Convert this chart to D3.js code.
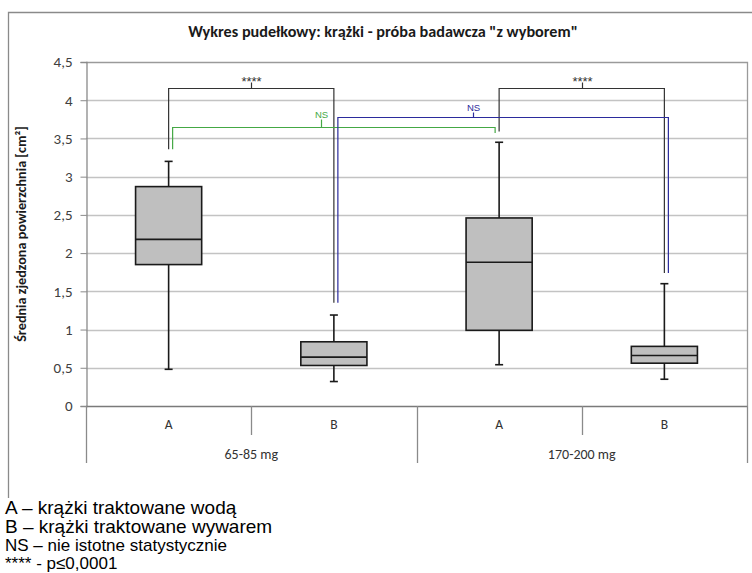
<!DOCTYPE html>
<html>
<head>
<meta charset="utf-8">
<script src="https://cdn.jsdelivr.net/npm/d3@7"></script>
<style>
  body { margin: 0; background: #fff; }
  svg { display: block; }
</style>
</head>
<body>
<div id="chart"></div>
<script>
// Box plot data, order: A/65-85, B/65-85, A/170-200, B/170-200
const groups = ["65-85 mg", "170-200 mg"]
const treatments = ["A", "B"]
const whiskerLow = [0.48, 0.32, 0.54, 0.35]
const q1 = [1.85, 0.53, 0.99, 0.56]
const median = [2.18, 0.64, 1.88, 0.66]
const q3 = [2.87, 0.84, 2.46, 0.78]
const whiskerHigh = [3.20, 1.19, 3.45, 1.60]
const yTicks = [0, 0.5, 1, 1.5, 2, 2.5, 3, 3.5, 4, 4.5]

// Significance brackets
const bracketFrom = [0, 2, 0, 1]
const bracketTo = [1, 3, 2, 3]
const bracketTop = [4.16, 4.16, 3.65, 3.78]
const bracketLeftEnd = [3.36, 3.59, 3.36, 1.35]
const bracketRightEnd = [1.35, 1.74, 3.57, 1.74]
const bracketMark = [0.5, 2.5, 0.92, 1.84]
const bracketLabels = ["****", "****", "NS", "NS"]

const legendLines = [
  "A – krążki traktowane wodą",
  "B – krążki traktowane wywarem",
  "NS – nie istotne statystycznie",
  "**** - p≤0,0001"
]

const width = 752
const height = 573
const plot = { left: 86, right: 747, top: 62, bottom: 406 }
const calibri = "Carlito, Lato, 'Open Sans', sans-serif"
const arial = "'Liberation Sans', Arial, sans-serif"

const bracketStyle = [
  { color: "#333333", dxL: 0, dxR: 0, mark: 6, labelSize: 13, labelGap: -3 },
  { color: "#333333", dxL: 0, dxR: 0, mark: 6, labelSize: 13, labelGap: -3 },
  { color: "#44a844", dxL: 4, dxR: -4, mark: 8, labelSize: 9.5, labelGap: 2 },
  { color: "#2b2b9c", dxL: 4, dxR: 4, mark: 5, labelSize: 9.5, labelGap: 2 }
]

const svg = d3.select("#chart")
  .append("svg")
  .attr("width", width)
  .attr("height", height)

// Outer chart frame
svg.append("path")
  .attr("d", `M8.5,502 V12.5 H${width}`)
  .attr("fill", "none")
  .attr("stroke", "#8a8a8a")
  .attr("stroke-width", 1.3)

// Title
svg.append("text")
  .attr("x", 383)
  .attr("y", 37)
  .attr("text-anchor", "middle")
  .attr("font-family", calibri)
  .attr("font-weight", "bold")
  .attr("font-size", "16.2px")
  .attr("fill", "#1a1a1a")
  .text('Wykres pudełkowy: krążki - próba badawcza "z wyborem"')

// Scales
const categories = d3.range(whiskerLow.length)
const x = d3.scaleBand()
  .domain(categories)
  .range([plot.left, plot.right])
  .paddingInner(0)
  .paddingOuter(0)

const xPos = d3.scaleLinear()
  .domain([-0.5, categories.length - 0.5])
  .range([plot.left, plot.right])

const y = d3.scaleLinear()
  .domain([0, 4.5])
  .range([plot.bottom, plot.top])

const center = i => x(i) + x.bandwidth() / 2

// Gridlines
svg.append("g")
  .selectAll("line")
  .data(yTicks.filter(t => t > 0 && t < 4.5))
  .join("line")
  .attr("x1", plot.left)
  .attr("x2", plot.right)
  .attr("y1", d => Math.round(y(d)) + 0.5)
  .attr("y2", d => Math.round(y(d)) + 0.5)
  .attr("stroke", "#c3c3c3")
  .attr("stroke-width", 1.3)

// Plot border (top and right)
svg.append("path")
  .attr("d", `M${plot.left},${plot.top + 0.5} H${plot.right + 0.5} V${plot.bottom}`)
  .attr("fill", "none")
  .attr("stroke", "#9a9a9a")
  .attr("stroke-width", 1.3)

// Y axis
const yAxis = svg.append("g")
  .attr("transform", `translate(${plot.left + 0.5},0)`)
  .call(d3.axisLeft(y)
    .tickValues(yTicks)
    .tickSize(6)
    .tickPadding(8)
    .tickFormat(d => String(d).replace(".", ",")))

yAxis.select(".domain").attr("stroke", "#8a8a8a").attr("stroke-width", 1.3)
yAxis.selectAll(".tick line").attr("stroke", "#8a8a8a")
yAxis.selectAll(".tick text")
  .attr("font-family", calibri)
  .attr("font-size", "15px")
  .attr("fill", "#404040")

// Zero line
svg.append("line")
  .attr("x1", plot.left)
  .attr("x2", plot.right + 0.5)
  .attr("y1", y(0) + 0.5)
  .attr("y2", y(0) + 0.5)
  .attr("stroke", "#7a7a7a")
  .attr("stroke-width", 1.3)

// Category axis separators
const sepY1 = plot.bottom
const innerSepY2 = 435
const outerSepY2 = 463
categories.concat([categories.length]).forEach(i => {
  const xx = i < categories.length ? x(i) : plot.right
  const isOuter = i % treatments.length === 0
  svg.append("line")
    .attr("x1", Math.round(xx) + 0.5)
    .attr("x2", Math.round(xx) + 0.5)
    .attr("y1", sepY1)
    .attr("y2", isOuter ? outerSepY2 : innerSepY2)
    .attr("stroke", "#8a8a8a")
    .attr("stroke-width", 1.3)
})

// Treatment labels
svg.append("g")
  .selectAll("text")
  .data(categories)
  .join("text")
  .attr("x", d => center(d))
  .attr("y", 429)
  .attr("text-anchor", "middle")
  .attr("font-family", calibri)
  .attr("font-size", "13.5px")
  .attr("fill", "#333")
  .text(d => treatments[d % treatments.length])

// Group labels
svg.append("g")
  .selectAll("text")
  .data(groups)
  .join("text")
  .attr("x", (d, g) => (x(g * treatments.length) + x(g * treatments.length + treatments.length - 1) + x.bandwidth()) / 2)
  .attr("y", 459)
  .attr("text-anchor", "middle")
  .attr("font-family", calibri)
  .attr("font-size", "14px")
  .attr("fill", "#333")
  .text(d => d)

// Y axis title
svg.append("text")
  .attr("transform", `translate(26,234) rotate(-90)`)
  .attr("text-anchor", "middle")
  .attr("font-family", calibri)
  .attr("font-weight", "bold")
  .attr("font-size", "14.2px")
  .attr("fill", "#1a1a1a")
  .text("Średnia zjedzona powierzchnia [cm²]")

// Boxes
const boxWidth = x.bandwidth() * 0.4
const capWidth = 8
const boxes = svg.append("g")
  .selectAll("g")
  .data(categories)
  .join("g")

boxes.append("line")
  .attr("x1", d => center(d))
  .attr("x2", d => center(d))
  .attr("y1", d => y(whiskerLow[d]))
  .attr("y2", d => y(whiskerHigh[d]))
  .attr("stroke", "#1a1a1a")
  .attr("stroke-width", 1.6)

boxes.selectAll(".cap")
  .data(d => [[d, whiskerLow[d]], [d, whiskerHigh[d]]])
  .join("line")
  .attr("class", "cap")
  .attr("x1", d => center(d[0]) - capWidth / 2)
  .attr("x2", d => center(d[0]) + capWidth / 2)
  .attr("y1", d => y(d[1]))
  .attr("y2", d => y(d[1]))
  .attr("stroke", "#1a1a1a")
  .attr("stroke-width", 1.6)

boxes.append("rect")
  .attr("x", d => center(d) - boxWidth / 2)
  .attr("y", d => y(q3[d]))
  .attr("width", boxWidth)
  .attr("height", d => y(q1[d]) - y(q3[d]))
  .attr("fill", "#bfbfbf")
  .attr("stroke", "#1a1a1a")
  .attr("stroke-width", 1.6)

boxes.append("line")
  .attr("x1", d => center(d) - boxWidth / 2)
  .attr("x2", d => center(d) + boxWidth / 2)
  .attr("y1", d => y(median[d]))
  .attr("y2", d => y(median[d]))
  .attr("stroke", "#1a1a1a")
  .attr("stroke-width", 1.6)

// Significance brackets
bracketFrom.forEach((from, i) => {
  const s = bracketStyle[i]
  const xl = center(from) + s.dxL
  const xr = center(bracketTo[i]) + s.dxR
  const top = Math.round(y(bracketTop[i])) + 0.5
  const xm = Math.round(xPos(bracketMark[i])) + 0.5

  svg.append("path")
    .attr("d", `M${xl},${y(bracketLeftEnd[i])} V${top} H${xr} V${y(bracketRightEnd[i])}`)
    .attr("fill", "none")
    .attr("stroke", s.color)
    .attr("stroke-width", 1.2)

  svg.append("line")
    .attr("x1", xm)
    .attr("x2", xm)
    .attr("y1", top)
    .attr("y2", top - s.mark)
    .attr("stroke", s.color)
    .attr("stroke-width", 1.2)

  svg.append("text")
    .attr("x", xm)
    .attr("y", top - s.mark - s.labelGap)
    .attr("text-anchor", "middle")
    .attr("font-family", arial)
    .attr("font-size", `${s.labelSize}px`)
    .attr("fill", s.color)
    .text(bracketLabels[i])
})

// Legend below the chart
const legendSize = [19, 19, 17, 17]
const legendBaseline = [514, 533, 551, 568.5]
svg.append("rect")
  .attr("x", 0)
  .attr("y", 498)
  .attr("width", 300)
  .attr("height", height - 498)
  .attr("fill", "#fff")

svg.append("g")
  .selectAll("text")
  .data(legendLines)
  .join("text")
  .attr("x", 5)
  .attr("y", (d, i) => legendBaseline[i])
  .attr("font-family", arial)
  .attr("font-size", (d, i) => `${legendSize[i]}px`)
  .attr("fill", "#000")
  .text(d => d)
</script>
</body>
</html>
